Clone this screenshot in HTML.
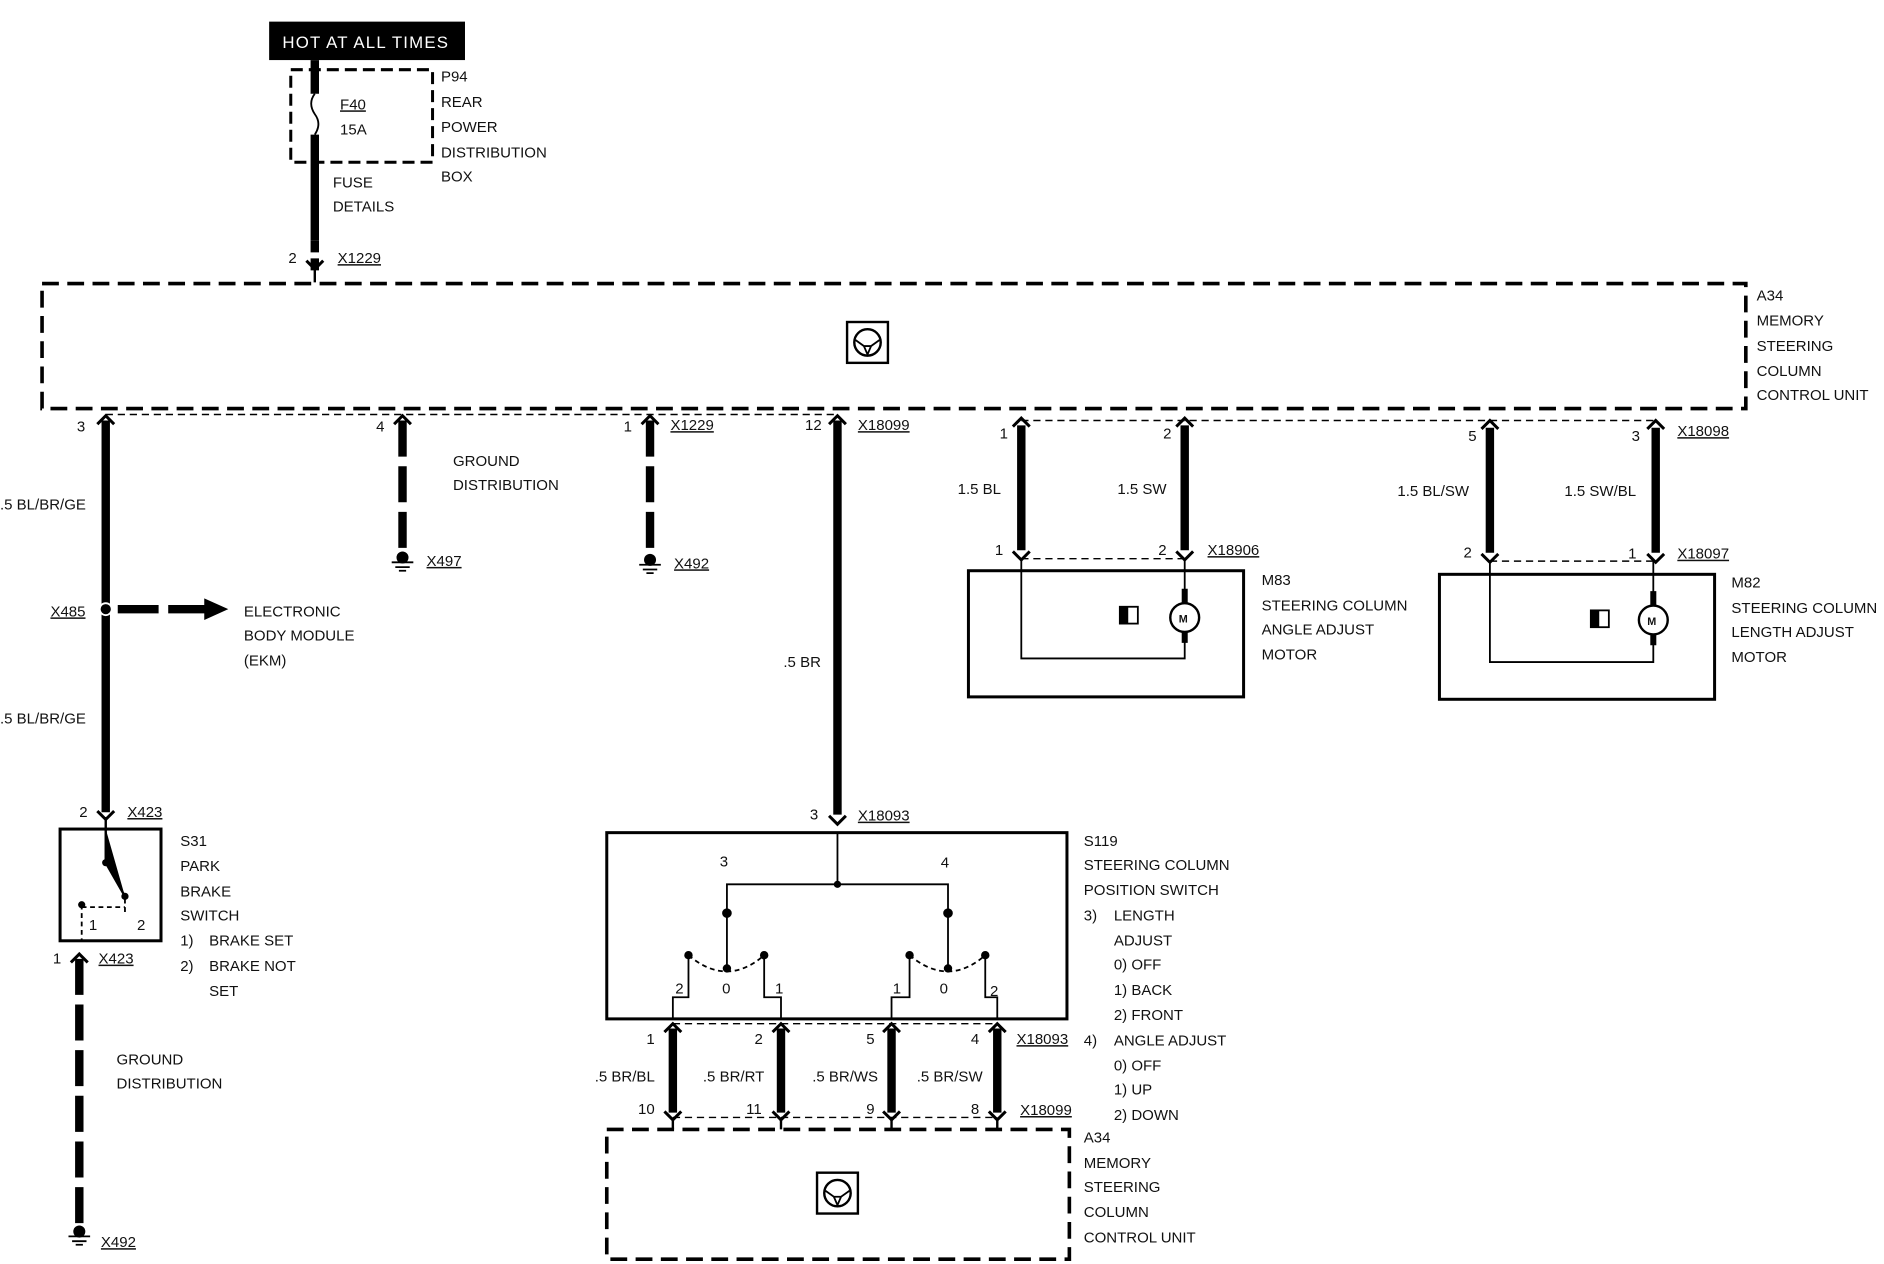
<!DOCTYPE html>
<html><head><style>
html,body{margin:0;padding:0;background:#fff;}
svg{display:block;}
text{font-family:"Liberation Sans",Arial,sans-serif;font-size:12.5px;fill:#111;}
</style></head><body>
<svg width="1884" height="1264" viewBox="0 0 1568 1052" preserveAspectRatio="none" xmlns="http://www.w3.org/2000/svg">
<defs>
<g id="up"><path d="M-7,5 L0,-2 L7,5" fill="none" stroke="#000" stroke-width="2.5"/></g>
<g id="dn"><path d="M-7,-5 L0,2 L7,-5" fill="none" stroke="#000" stroke-width="2.5"/></g>
<g id="gnd"><circle cx="0" cy="0" r="5" fill="#000"/><path d="M-9,4 H9 M-6,8 H6 M-3,11 H3" stroke="#000" stroke-width="1.5"/></g>
<g id="icon"><rect x="-17" y="-17" width="34" height="34" fill="none" stroke="#000" stroke-width="2"/><circle cx="0" cy="0" r="11" fill="none" stroke="#000" stroke-width="2"/><path d="M-10,-2 L-3,3 L3,3 L10,-2 M-3,3 L0,10 L3,3" fill="none" stroke="#000" stroke-width="1.5"/></g>
</defs>

<!-- Hot at all times -->
<rect x="224" y="18" width="163" height="32" fill="#000"/>
<text x="235" y="40" style="fill:#fff;font-size:14px;letter-spacing:1px">HOT AT ALL TIMES</text>
<rect x="242" y="58" width="118" height="77" fill="none" stroke="#000" stroke-width="2.5" stroke-dasharray="10,5"/>
<path d="M262,50 V78 M262,112 V200" stroke="#000" stroke-width="7"/>
<path d="M262,78 q-6,8 0,17 q6,8 0,17" fill="none" stroke="#000" stroke-width="1.5"/>
<path d="M262,200 V225" stroke="#000" stroke-width="7" stroke-dasharray="10,5"/>
<text x="283" y="91" style="text-decoration:underline">F40</text>
<text x="283" y="112">15A</text>
<text x="367" y="68">P94</text><text x="367" y="89">REAR</text><text x="367" y="110">POWER</text><text x="367" y="131">DISTRIBUTION</text><text x="367" y="151">BOX</text>
<text x="277" y="156">FUSE</text><text x="277" y="176">DETAILS</text>
<text x="240" y="219">2</text><text x="281" y="219" style="text-decoration:underline">X1229</text>
<use href="#dn" x="262" y="222"/>
<path d="M262,222 V235" stroke="#000" stroke-width="2"/>

<!-- A34 big -->
<rect x="35" y="236" width="1418" height="104" fill="none" stroke="#000" stroke-width="3" stroke-dasharray="14,7"/>
<use href="#icon" x="722" y="285"/>
<text x="1462" y="250">A34</text><text x="1462" y="271">MEMORY</text><text x="1462" y="292">STEERING</text><text x="1462" y="313">COLUMN</text><text x="1462" y="333">CONTROL UNIT</text>

<!-- top connector dashed row -->
<path d="M88,345 H697" stroke="#000" stroke-width="1.2" stroke-dasharray="6,4"/>
<path d="M850,350 H1378" stroke="#000" stroke-width="1.2" stroke-dasharray="6,4"/>
<use href="#up" x="88" y="348"/><use href="#up" x="335" y="348"/><use href="#up" x="541" y="348"/><use href="#up" x="697" y="348"/>
<use href="#up" x="850" y="350"/><use href="#up" x="986" y="350"/><use href="#up" x="1240" y="352"/><use href="#up" x="1378" y="352"/>
<text x="64" y="359">3</text><text x="313" y="359">4</text><text x="519" y="359">1</text><text x="558" y="358" style="text-decoration:underline">X1229</text>
<text x="670" y="358">12</text><text x="714" y="358" style="text-decoration:underline">X18099</text>
<text x="832" y="365">1</text><text x="968" y="365">2</text><text x="1222" y="367">5</text><text x="1358" y="367">3</text><text x="1396" y="363" style="text-decoration:underline">X18098</text>

<!-- left wire -->
<path d="M88,350 V676" stroke="#000" stroke-width="7"/>
<text x="0" y="424">.5 BL/BR/GE</text><text x="0" y="602">.5 BL/BR/GE</text>
<text x="42" y="513" style="text-decoration:underline">X485</text>
<circle cx="88" cy="507" r="5" fill="#000" stroke="#fff" stroke-width="1.5"/>
<path d="M98,507 H172" stroke="#000" stroke-width="7" stroke-dasharray="34,8"/>
<path d="M170,498 L190,507 L170,516 Z" fill="#000"/>
<text x="203" y="513">ELECTRONIC</text><text x="203" y="533">BODY MODULE</text><text x="203" y="554">(EKM)</text>
<text x="66" y="680">2</text><text x="106" y="680" style="text-decoration:underline">X423</text>
<use href="#dn" x="88" y="680"/>
<path d="M88,680 V690" stroke="#000" stroke-width="2"/>
<rect x="50" y="690" width="84" height="93" fill="none" stroke="#000" stroke-width="2.5"/>
<path d="M88,690 V718 L104,746 M104,746 V746" stroke="#000" stroke-width="2"/>
<circle cx="88" cy="718" r="3" fill="#000"/><circle cx="104" cy="746" r="3" fill="#000"/><circle cx="68" cy="753" r="3" fill="#000"/>
<path d="M68,753 V783 M68,755 H104 M104,748 V760" stroke="#000" stroke-width="1.5" stroke-dasharray="4,3"/>
<text x="74" y="774">1</text><text x="114" y="774">2</text>
<text x="150" y="704">S31</text><text x="150" y="725">PARK</text><text x="150" y="746">BRAKE</text><text x="150" y="766">SWITCH</text>
<text x="150" y="787">1)</text><text x="174" y="787">BRAKE SET</text><text x="150" y="808">2)</text><text x="174" y="808">BRAKE NOT</text><text x="174" y="829">SET</text>
<text x="44" y="802">1</text><text x="82" y="802" style="text-decoration:underline">X423</text>
<use href="#up" x="66" y="796"/>
<path d="M66,798 V1020" stroke="#000" stroke-width="7" stroke-dasharray="30,8"/>
<use href="#gnd" x="66" y="1025"/>
<text x="84" y="1038" style="text-decoration:underline">X492</text>
<text x="97" y="886">GROUND</text><text x="97" y="906">DISTRIBUTION</text>

<!-- ground wires -->
<path d="M335,350 V458" stroke="#000" stroke-width="7" stroke-dasharray="30,8"/>
<use href="#gnd" x="335" y="464"/><text x="355" y="471" style="text-decoration:underline">X497</text>
<text x="377" y="388">GROUND</text><text x="377" y="408">DISTRIBUTION</text>
<path d="M541,350 V460" stroke="#000" stroke-width="7" stroke-dasharray="30,8"/>
<use href="#gnd" x="541" y="466"/><text x="561" y="473" style="text-decoration:underline">X492</text>

<!-- middle wire -->
<path d="M697,350 V678" stroke="#000" stroke-width="7"/>
<text x="652" y="555">.5 BR</text>
<text x="674" y="682">3</text><text x="714" y="683" style="text-decoration:underline">X18093</text>
<use href="#dn" x="697" y="684"/>
<rect x="505" y="693" width="383" height="155" fill="none" stroke="#000" stroke-width="2.5"/>
<path d="M697,693 V736 M605,760 V736 H789 V760" fill="none" stroke="#000" stroke-width="1.5"/>
<circle cx="697" cy="736" r="3" fill="#000"/><circle cx="605" cy="760" r="4" fill="#000"/><circle cx="789" cy="760" r="4" fill="#000"/>
<text x="599" y="721">3</text><text x="783" y="722">4</text>
<path d="M605,760 V805 M789,760 V805" stroke="#000" stroke-width="1.5"/>
<circle cx="605" cy="806" r="3.5" fill="#000"/><circle cx="789" cy="806" r="3.5" fill="#000"/>
<circle cx="573" cy="795" r="3.5" fill="#000"/><circle cx="636" cy="795" r="3.5" fill="#000"/>
<circle cx="757" cy="795" r="3.5" fill="#000"/><circle cx="820" cy="795" r="3.5" fill="#000"/>
<path d="M573,795 Q605,822 636,795 M757,795 Q789,822 820,795" fill="none" stroke="#000" stroke-width="1.5" stroke-dasharray="4,3"/>
<path d="M573,795 V830 H560 V848 M636,795 V830 H650 V848 M757,795 V830 H742 V848 M820,795 V830 H830 V848" fill="none" stroke="#000" stroke-width="1.5"/>
<text x="601" y="827">0</text><text x="782" y="827">0</text>
<text x="562" y="827">2</text><text x="645" y="827">1</text><text x="743" y="827">1</text><text x="824" y="829">2</text>
<text x="902" y="704">S119</text><text x="902" y="724">STEERING COLUMN</text><text x="902" y="745">POSITION SWITCH</text>
<text x="902" y="766">3)</text><text x="927" y="766">LENGTH</text><text x="927" y="787">ADJUST</text><text x="927" y="807">0) OFF</text><text x="927" y="828">1) BACK</text><text x="927" y="849">2) FRONT</text>
<text x="902" y="870">4)</text><text x="927" y="870">ANGLE ADJUST</text><text x="927" y="891">0) OFF</text><text x="927" y="911">1) UP</text><text x="927" y="932">2) DOWN</text>

<!-- lower connectors -->
<path d="M560,852 H830 M560,930 H830" stroke="#000" stroke-width="1.2" stroke-dasharray="6,4"/>
<g stroke="#000" stroke-width="7"><path d="M560,856 V926 M650,856 V926 M742,856 V926 M830,856 V926"/></g>
<use href="#up" x="560" y="854"/><use href="#up" x="650" y="854"/><use href="#up" x="742" y="854"/><use href="#up" x="830" y="854"/>
<use href="#dn" x="560" y="930"/><use href="#dn" x="650" y="930"/><use href="#dn" x="742" y="930"/><use href="#dn" x="830" y="930"/>
<path d="M560,930 V940 M650,930 V940 M742,930 V940 M830,930 V940" stroke="#000" stroke-width="2"/>
<text x="538" y="869">1</text><text x="628" y="869">2</text><text x="721" y="869">5</text><text x="808" y="869">4</text>
<text x="846" y="869" style="text-decoration:underline">X18093</text>
<text x="495" y="900">.5 BR/BL</text><text x="585" y="900">.5 BR/RT</text><text x="676" y="900">.5 BR/WS</text><text x="763" y="900">.5 BR/SW</text>
<text x="531" y="927">10</text><text x="621" y="927">11</text><text x="721" y="927">9</text><text x="808" y="927">8</text>
<text x="849" y="928" style="text-decoration:underline">X18099</text>
<rect x="505" y="940" width="385" height="108" fill="none" stroke="#000" stroke-width="3" stroke-dasharray="14,7"/>
<use href="#icon" x="697" y="993"/>
<text x="902" y="951">A34</text><text x="902" y="972">MEMORY</text><text x="902" y="992">STEERING</text><text x="902" y="1013">COLUMN</text><text x="902" y="1034">CONTROL UNIT</text>

<!-- M83 -->
<path d="M850,354 V458 M986,354 V458" stroke="#000" stroke-width="7"/>
<text x="797" y="411">1.5 BL</text><text x="930" y="411">1.5 SW</text>
<path d="M850,465 H986" stroke="#000" stroke-width="1.2" stroke-dasharray="6,4"/>
<use href="#dn" x="850" y="464"/><use href="#dn" x="986" y="464"/>
<text x="828" y="462">1</text><text x="964" y="462">2</text><text x="1005" y="462" style="text-decoration:underline">X18906</text>
<rect x="806" y="475" width="229" height="105" fill="none" stroke="#000" stroke-width="2.5"/>
<path d="M850,465 V548 H986 V527 M986,465 V501" fill="none" stroke="#000" stroke-width="1.5"/>
<path d="M986,490 V502 M986,526 V535" stroke="#000" stroke-width="5"/>
<circle cx="986" cy="514" r="12" fill="#fff" stroke="#000" stroke-width="2"/>
<text x="981" y="518" style="font-size:9px;font-weight:bold">M</text>
<rect x="932" y="505" width="15" height="14" fill="none" stroke="#000" stroke-width="1.5"/><rect x="932" y="505" width="7" height="14" fill="#000"/>
<text x="1050" y="487">M83</text><text x="1050" y="508">STEERING COLUMN</text><text x="1050" y="528">ANGLE ADJUST</text><text x="1050" y="549">MOTOR</text>

<!-- M82 -->
<path d="M1240,356 V460 M1378,356 V460" stroke="#000" stroke-width="7"/>
<text x="1163" y="413">1.5 BL/SW</text><text x="1302" y="413">1.5 SW/BL</text>
<path d="M1240,467 H1378" stroke="#000" stroke-width="1.2" stroke-dasharray="6,4"/>
<use href="#dn" x="1240" y="466"/><use href="#dn" x="1378" y="466"/>
<text x="1218" y="464">2</text><text x="1355" y="465">1</text><text x="1396" y="465" style="text-decoration:underline">X18097</text>
<rect x="1198" y="478" width="229" height="104" fill="none" stroke="#000" stroke-width="2.5"/>
<path d="M1240,467 V551 H1376 V528 M1376,467 V503" fill="none" stroke="#000" stroke-width="1.5"/>
<path d="M1376,492 V504 M1376,528 V537" stroke="#000" stroke-width="5"/>
<circle cx="1376" cy="516" r="12" fill="#fff" stroke="#000" stroke-width="2"/>
<text x="1371" y="520" style="font-size:9px;font-weight:bold">M</text>
<rect x="1324" y="508" width="15" height="14" fill="none" stroke="#000" stroke-width="1.5"/><rect x="1324" y="508" width="7" height="14" fill="#000"/>
<text x="1441" y="489">M82</text><text x="1441" y="510">STEERING COLUMN</text><text x="1441" y="530">LENGTH ADJUST</text><text x="1441" y="551">MOTOR</text>
</svg>
</body></html>
